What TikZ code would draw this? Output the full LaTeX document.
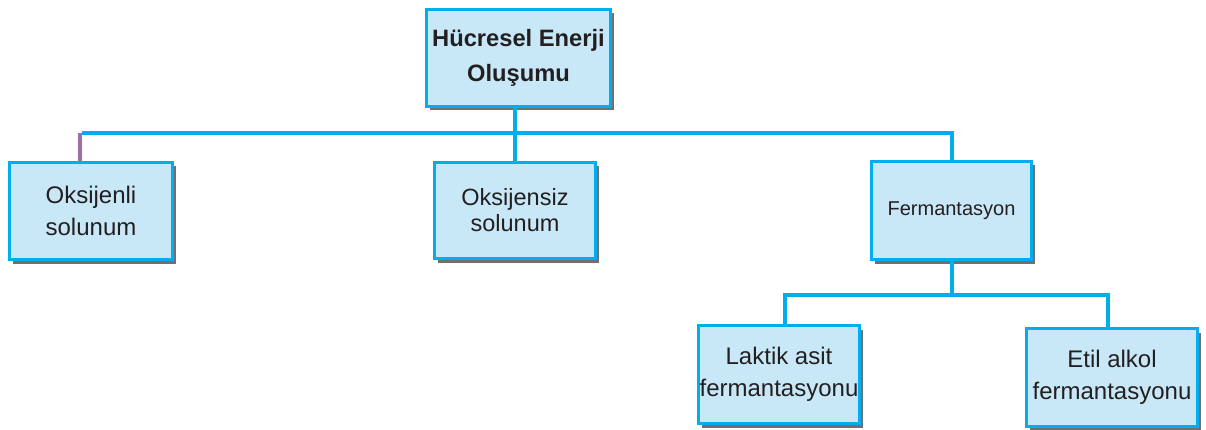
\documentclass[tikz,border=0pt]{standalone}
\usepackage{fontspec}
\setmainfont{Liberation Sans}
\usetikzlibrary{shadows}
\definecolor{lineblue}{HTML}{00AEEF}
\definecolor{boxfill}{HTML}{C8E8F8}
\definecolor{linkpurple}{HTML}{A46AAE}
\definecolor{txt}{HTML}{231F20}
\tikzset{
  boxnode/.style={rectangle, draw=lineblue, line width=3pt, fill=boxfill, align=center,
    text=txt, inner sep=0pt,
    drop shadow={shadow xshift=3.5pt, shadow yshift=-4pt, fill=black!75, opacity=.75}},
  conn/.style={draw=lineblue, line width=4pt, line join=miter},
  purpconn/.style={draw=linkpurple, line width=4pt},
  bodytext/.style={font=\fontsize{24}{32}\selectfont},
}
\begin{document}
\begin{tikzpicture}[x=1pt,y=-1pt]
\useasboundingbox (0,0) rectangle (1206,430);
% nodes
\node[boxnode, minimum width=184pt, minimum height=97pt, font=\bfseries\fontsize{23.7}{35}\selectfont] (top) at (518.5,58) {Hücresel Enerji\\Oluşumu};
\node[boxnode, bodytext, minimum width=163pt, minimum height=97pt] (oks1) at (91,211) {Oksijenli\\solunum};
\node[boxnode, minimum width=161pt, minimum height=96pt, font=\fontsize{23.5}{26}\selectfont] (oks2) at (515,210.5) {Oksijensiz\\solunum};
\node[boxnode, minimum width=160pt, minimum height=98pt, font=\fontsize{20}{24}\selectfont] (ferm) at (951.5,210.5) {Fermantasyon};
\node[boxnode, bodytext, minimum width=161pt, minimum height=98pt] (lak) at (779,374.5) {Laktik asit\\fermantasyonu};
\node[boxnode, bodytext, minimum width=171pt, minimum height=98pt] (etil) at (1112,377.5) {Etil alkol\\fermantasyonu};
% junction coordinates
\coordinate (pl) at (80,133);
\coordinate (mid) at (515,133);
\coordinate (la) at (785,295);
\coordinate (et) at (1108,295);
% connectors
\draw[purpconn] (pl) -- (pl |- oks1.north);
\draw[conn] ([xshift=2pt]pl) -- (ferm.north |- pl) -- (ferm.north);
\draw[conn] (top.south -| mid) -- (oks2.north -| mid);
\draw[conn] (ferm.south) -- (ferm.south |- la);
\draw[conn] (la |- lak.north) -- (la) -- (et) -- (et |- etil.north);
\end{tikzpicture}
\end{document}
